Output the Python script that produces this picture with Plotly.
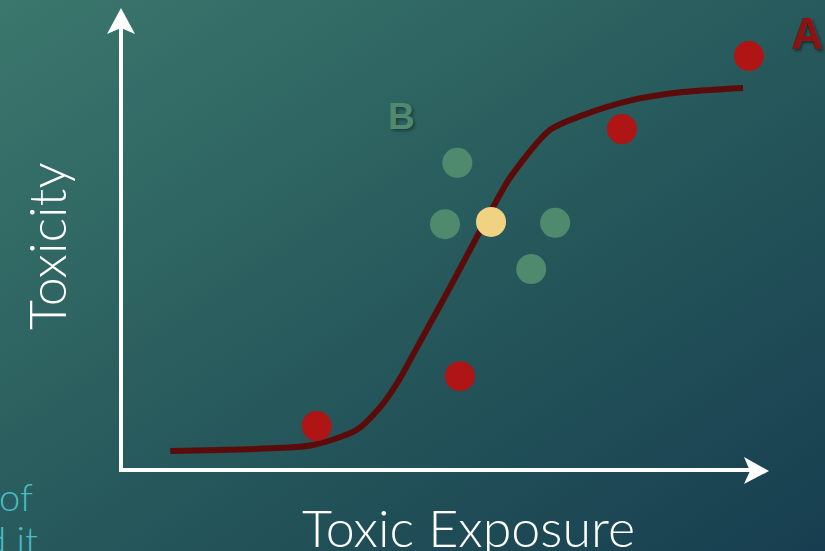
import plotly.graph_objects as go

W, H = 825, 551

# Dose-response curve (Toxic Exposure vs Toxicity)
curve_x = [0.76, 2.50, 2.96, 3.64, 4.00, 4.27, 4.57, 5.03, 5.49, 5.80, 6.00, 6.62, 7.13, 7.90, 8.67, 9.60]
curve_y = [0.41, 0.48, 0.54, 0.87, 1.36, 1.90, 2.66, 3.83, 5.04, 5.84, 6.32, 7.36, 7.68, 8.01, 8.18, 8.27]

# Observations: red = chemical A, green = chemical B cluster, yellow = B mean
red_x = [3.02, 5.23, 7.73, 9.69]
red_y = [0.95, 2.03, 7.38, 8.96]
green_x = [5.19, 5.00, 6.70, 6.33]
green_y = [6.65, 5.32, 5.35, 4.35]
yellow_x = [5.71]
yellow_y = [5.37]

x_title = "Toxic Exposure"
y_title = "Toxicity"

# axis geometry (pixels): origin and arrow tips
OX, OY = 121, 470
X_TIP, Y_TIP = 769, 8
sx = (X_TIP - OX) / 10.0
sy = (OY - Y_TIP) / 10.0


def px(x):
    return x / W


def py(y):
    return 1 - y / H


bg_svg = (
    "data:image/svg+xml;utf8,"
    "<svg xmlns='http://www.w3.org/2000/svg' width='825' height='551'>"
    "<defs><linearGradient id='g' x1='0' y1='0' x2='1' y2='1'>"
    "<stop offset='0' stop-color='%233b776d'/>"
    "<stop offset='0.5' stop-color='%23275a5c'/>"
    "<stop offset='1' stop-color='%23173e50'/>"
    "</linearGradient></defs>"
    "<rect width='825' height='551' fill='url(%23g)'/></svg>"
)

fig = go.Figure()

fig.add_trace(go.Scatter(
    x=curve_x, y=curve_y, mode="lines",
    line=dict(color="#5c0b0b", width=6, shape="spline", smoothing=0.8),
    hoverinfo="skip",
))
fig.add_trace(go.Scatter(
    x=green_x, y=green_y, mode="markers",
    marker=dict(color="#4f8a6e", size=30, line=dict(width=0)),
))
fig.add_trace(go.Scatter(
    x=red_x, y=red_y, mode="markers",
    marker=dict(color="#b01515", size=30, line=dict(width=0)),
))
fig.add_trace(go.Scatter(
    x=yellow_x, y=yellow_y, mode="markers",
    marker=dict(color="#f0d282", size=30, line=dict(width=0)),
))

shapes = [
    # x axis shaft and arrowhead
    dict(type="line", xref="paper", yref="paper",
         x0=px(OX - 2), y0=py(OY), x1=px(X_TIP - 18), y1=py(OY),
         line=dict(color="white", width=4)),
    dict(type="path", xref="paper", yref="paper",
         path=(f"M {px(X_TIP)} {py(OY + 1)} L {px(X_TIP - 25)} {py(OY - 13)} "
               f"L {px(X_TIP - 19)} {py(OY + 1)} L {px(X_TIP - 25)} {py(OY + 14)} Z"),
         fillcolor="white", line=dict(width=0)),
    # y axis shaft and arrowhead
    dict(type="line", xref="paper", yref="paper",
         x0=px(OX), y0=py(OY + 2), x1=px(OX), y1=py(Y_TIP + 18),
         line=dict(color="white", width=4)),
    dict(type="path", xref="paper", yref="paper",
         path=(f"M {px(OX)} {py(Y_TIP)} L {px(OX - 14)} {py(Y_TIP + 26)} "
               f"L {px(OX)} {py(Y_TIP + 20)} L {px(OX + 14)} {py(Y_TIP + 26)} Z"),
         fillcolor="white", line=dict(width=0)),
]

label_font = "Lato"
annotations = [
    dict(text=x_title, x=px(468), y=py(527), xref="paper", yref="paper",
         showarrow=False, xanchor="center", yanchor="middle",
         font=dict(family=label_font, size=52, color="white", weight=300)),
    dict(text=y_title, x=px(46), y=py(247), xref="paper", yref="paper",
         showarrow=False, xanchor="center", yanchor="middle", textangle=-90,
         font=dict(family=label_font, size=52, color="white", weight=300)),
    dict(text="A", x=px(807), y=py(34), xref="paper", yref="paper",
         showarrow=False, xanchor="center", yanchor="middle",
         font=dict(family="Liberation Sans", size=44, color="#8e1212", weight="bold",
                   shadow="2px 2px 3px rgba(0,0,0,0.45)")),
    dict(text="B", x=px(401), y=py(116), xref="paper", yref="paper",
         showarrow=False, xanchor="center", yanchor="middle",
         font=dict(family="Liberation Sans", size=37, color="#4f8a6e", weight="bold",
                   shadow="2px 2px 3px rgba(0,0,0,0.35)")),
    dict(text="of", x=px(35), y=py(496), xref="paper", yref="paper",
         showarrow=False, xanchor="right", yanchor="middle",
         font=dict(family=label_font, size=38, color="#4cbcc4", weight=300)),
    dict(text="and it", x=px(40), y=py(539), xref="paper", yref="paper",
         showarrow=False, xanchor="right", yanchor="middle",
         font=dict(family=label_font, size=38, color="#4cbcc4", weight=300)),
]

fig.update_layout(
    width=W, height=H,
    margin=dict(l=0, r=0, t=0, b=0),
    paper_bgcolor="#275a5c",
    plot_bgcolor="rgba(0,0,0,0)",
    showlegend=False,
    images=[dict(source=bg_svg, xref="paper", yref="paper", x=0, y=1,
                 sizex=1, sizey=1, sizing="stretch", layer="below")],
    shapes=shapes,
    annotations=annotations,
    xaxis=dict(range=[-OX / sx, (W - OX) / sx], visible=False, fixedrange=True),
    yaxis=dict(range=[(OY - H) / sy, OY / sy], visible=False, fixedrange=True),
)

fig.write_html("out.html")
